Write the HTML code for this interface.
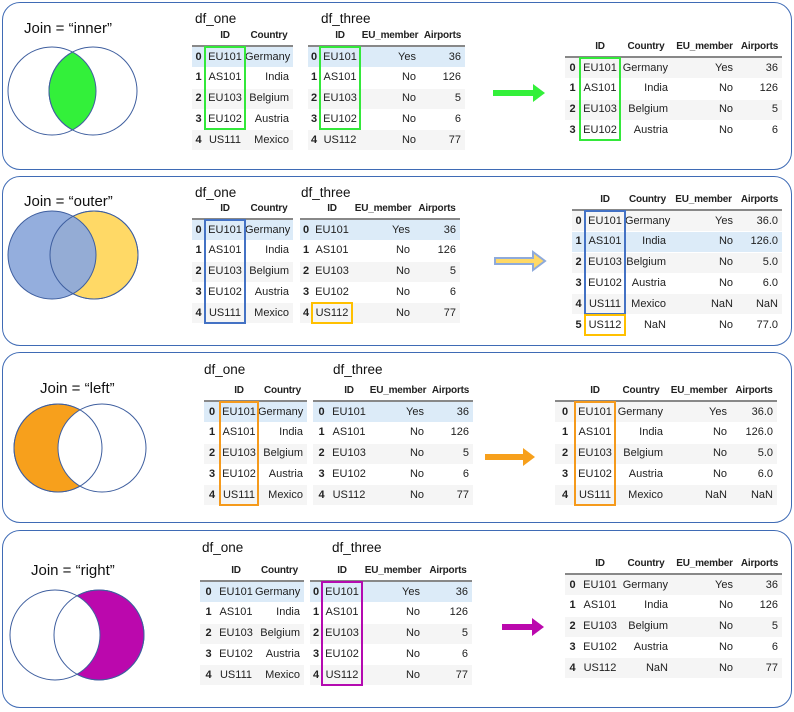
<!DOCTYPE html>
<html><head><meta charset="utf-8"><style>
body{margin:0;width:794px;height:712px;background:#fff;position:relative;overflow:hidden;font-family:"Liberation Sans",sans-serif;}
.panel{position:absolute;border:1.6px solid #3f6bb5;border-radius:18px;box-sizing:border-box;}
.title{position:absolute;font-size:15px;color:#111;}
.lbl{position:absolute;font-size:13.5px;color:#111;}
.t{position:absolute;font-size:11px;color:#222;}
.cell{position:absolute;height:21px;line-height:21px;text-align:right;box-sizing:border-box;padding-right:4px;white-space:nowrap;}
.hd{font-weight:bold;text-align:center;padding:0;font-size:10px;letter-spacing:-0.2px;}
.box{position:absolute;border:2px solid;box-sizing:border-box;}
svg{position:absolute;left:0;top:0;}
</style></head><body>
<div class="panel" style="left:2px;top:2px;width:790px;height:168px"></div>
<div class="panel" style="left:2px;top:176px;width:790px;height:170px"></div>
<div class="panel" style="left:2px;top:352px;width:790px;height:171px"></div>
<div class="panel" style="left:2px;top:530px;width:790px;height:178px"></div>

<div class="title" style="left:24px;top:20px">Join = “inner”</div>
<div class="title" style="left:24px;top:193px">Join = “outer”</div>
<div class="title" style="left:40px;top:380px">Join = “left”</div>
<div class="title" style="left:31px;top:562px">Join = “right”</div>

<svg width="794" height="712">
<defs>
<clipPath id="c1"><circle cx="52" cy="91" r="44"/></clipPath>
<mask id="m3"><rect width="794" height="712" fill="#fff"/><circle cx="102" cy="448" r="44" fill="#000"/></mask>
<mask id="m4"><rect width="794" height="712" fill="#fff"/><circle cx="55" cy="635" r="45" fill="#000"/></mask>
</defs>
<g stroke="#3f5f9f" stroke-width="1">
<circle cx="93" cy="91" r="44" fill="#33f03a" clip-path="url(#c1)"/>
<circle cx="52" cy="91" r="44" fill="none"/><circle cx="93" cy="91" r="44" fill="none"/>
<circle cx="94" cy="255" r="44" fill="#ffd966"/>
<circle cx="52" cy="255" r="44" fill="#8eaadb" fill-opacity="0.95"/>
<circle cx="94" cy="255" r="44" fill="none"/>
<circle cx="58" cy="448" r="44" fill="#f7a01c" mask="url(#m3)"/>
<circle cx="58" cy="448" r="44" fill="none"/><circle cx="102" cy="448" r="44" fill="none"/>
<circle cx="99" cy="635" r="45" fill="#bb08ad" mask="url(#m4)"/>
<circle cx="55" cy="635" r="45" fill="none"/><circle cx="99" cy="635" r="45" fill="none"/>
</g>
<g>
<path d="M493 90 h40 v-6 l12 9 l-12 9 v-6 h-40z" fill="#33f03a"/>
<path d="M495 258 h38 v-6 l12 9 l-12 9 v-6 h-38z" fill="#ffd966" stroke="#8eaadb" stroke-width="2"/>
<path d="M485 454 h38 v-6 l12 9 l-12 9 v-6 h-38z" fill="#f7a01c"/>
<path d="M502 624 h30 v-6 l12 9 l-12 9 v-6 h-30z" fill="#bb08ad"/>
</g>
</svg>

<div class="lbl" style="left:195px;top:11px">df_one</div>
<div class="lbl" style="left:321px;top:11px">df_three</div>
<div class="lbl" style="left:195px;top:185px">df_one</div>
<div class="lbl" style="left:301px;top:185px">df_three</div>
<div class="lbl" style="left:204px;top:362px">df_one</div>
<div class="lbl" style="left:333px;top:362px">df_three</div>
<div class="lbl" style="left:202px;top:540px">df_one</div>
<div class="lbl" style="left:332px;top:540px">df_three</div>

<script>
const oneCols=['ID','Country'];
const oneRows=[['EU101','Germany'],['AS101','India'],['EU103','Belgium'],['EU102','Austria'],['US111','Mexico']];
const threeCols=['ID','EU_member','Airports'];
const threeRows=[['EU101','Yes','36'],['AS101','No','126'],['EU103','No','5'],['EU102','No','6'],['US112','No','77']];
const resCols=['ID','Country','EU_member','Airports'];
const innerRows=[['EU101','Germany','Yes','36'],['AS101','India','No','126'],['EU103','Belgium','No','5'],['EU102','Austria','No','6']];
const outerRows=[['EU101','Germany','Yes','36.0'],['AS101','India','No','126.0'],['EU103','Belgium','No','5.0'],['EU102','Austria','No','6.0'],['US111','Mexico','NaN','NaN'],['US112','NaN','No','77.0']];
const leftRows=[['EU101','Germany','Yes','36.0'],['AS101','India','No','126.0'],['EU103','Belgium','No','5.0'],['EU102','Austria','No','6.0'],['US111','Mexico','NaN','NaN']];
const rightRows=[['EU101','Germany','Yes','36'],['AS101','India','No','126'],['EU103','Belgium','No','5'],['EU102','Austria','No','6'],['US112','NaN','No','77']];

function table(name,x,lineY,widths,cols,rows,hi,box){
  const t=document.createElement('div');t.className='t';
  
  
  t.style.left=x+'px';t.style.top=(lineY-21)+'px';
  const total=widths.reduce((a,b)=>a+b,0);
  let cx=widths[0];
  cols.forEach((c,i)=>{const d=document.createElement('div');d.className='cell hd';
    
    
    d.style.left=cx+'px';d.style.top='0px';d.style.width=widths[i+1]+'px';d.textContent=c;t.appendChild(d);cx+=widths[i+1];});
  const ln=document.createElement('div');ln.style.cssText='position:absolute;left:0;top:20px;height:2px;background:#888;width:'+total+'px';t.appendChild(ln);
  rows.forEach((r,ri)=>{
    const y=22+ri*20.8;
    const bg=document.createElement('div');
    
    
    bg.style.cssText='position:absolute;left:0;top:'+y+'px;height:20px;width:'+total+'px;background:'+(ri===hi?'#dcebf8':(ri%2===0?'#f5f5f5':'#fff'));
    t.appendChild(bg);
    const ix=document.createElement('div');ix.className='cell';ix.style.cssText='left:0;top:'+(y-0.5)+'px;width:'+widths[0]+'px;font-weight:bold;text-align:center;padding:0';ix.textContent=ri;t.appendChild(ix);
    let cx=widths[0];
    r.forEach((v,i)=>{const d=document.createElement('div');d.className='cell';
      d.style.left=cx+'px';d.style.top=(y-0.5)+'px';d.style.width=widths[i+1]+'px';
      if(i===0){d.style.textAlign='center';d.style.padding='0';}
      d.textContent=v;t.appendChild(d);cx+=widths[i+1];});
  });
  (box||[]).forEach(b=>{const d=document.createElement('div');d.className='box';
    
    
    d.style.left=(widths[0]-1)+'px';d.style.width=(widths[1]+2)+'px';
    d.style.top=(22+b[0]*20.8-1)+'px';d.style.height=((b[1]-b[0]+1)*20.8+1)+'px';d.style.borderColor=b[2];t.appendChild(d);});
  document.body.appendChild(t);
}
const G='#33e83a',B='#4472c4',Y='#ffc000',O='#f59a1c',M='#b40ab0';
table('df-one-inner',192,46,[13,40,48],oneCols,oneRows,0,[[0,3,G]]);
table('df-three-inner',308,46,[12,40,60,45],threeCols,threeRows,0,[[0,3,G]]);
table('result-inner',565,57,[15,40,52,65,45],resCols,innerRows,-1,[[0,3,G]]);
table('df-one-outer',192,219,[13,40,48],oneCols,oneRows,0,[[0,4,B]]);
table('df-three-outer',300,219,[12,40,62,46],threeCols,threeRows,0,[[4,4,Y]]);
table('result-outer',572,210,[13,40,45,67,45],resCols,outerRows,1,[[0,4,B],[5,5,Y]]);
table('df-one-left',204,401,[16,38,49],oneCols,oneRows,0,[[0,4,O]]);
table('df-three-left',313,401,[17,38,60,45],threeCols,threeRows,0,[]);
table('result-left',555,401,[20,40,52,64,46],resCols,leftRows,-1,[[0,4,O]]);
table('df-one-right',200,581,[17,38,49],oneCols,oneRows,0,[]);
table('df-three-right',310,581,[12,40,62,48],threeCols,threeRows,0,[[0,4,M]]);
table('result-right',565,574,[15,40,52,65,45],resCols,rightRows,-1,[]);
</script>
</body></html>
